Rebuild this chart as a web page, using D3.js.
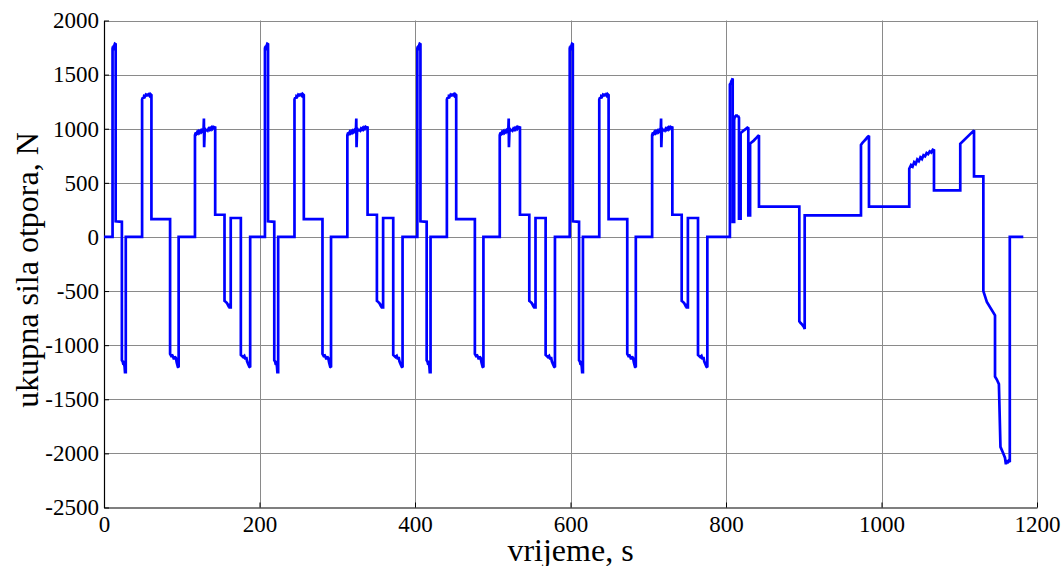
<!DOCTYPE html>
<html>
<head>
<meta charset="utf-8">
<script src="https://cdn.jsdelivr.net/npm/d3@7"></script>
<style>
  body { margin: 0; background: #fff; }
  svg { display: block; }
</style>
</head>
<body>
<svg id="chart"></svg>
<script>
// one ECE-15 urban cycle (time in s from cycle start, force in N)
const eceTime = [
  0, 11,
  11, 11.5, 12, 12.5, 13, 13.5, 14, 15,
  15, 23,
  23, 24, 24.5, 25.5, 26.5, 27, 28,
  28, 49,
  49, 50, 51, 51.5, 52.5, 53.5, 54.5, 55.5, 56.5, 57.5, 58.5, 59.5, 61,
  61, 85,
  85, 86.5, 88, 89, 90, 91, 92.5, 93.5, 95, 96,
  96, 117,
  117, 118, 119, 120, 121, 122, 123, 124, 125, 126, 127, 128, 128.5, 128.8, 129.5, 130.5, 131.5, 132.5, 133.5, 134.5, 135.5, 136.5, 137.5, 138.5, 139.5, 140.5, 141.5, 143,
  143, 155,
  155, 156.5, 158, 159.5, 160.5, 161.5, 163,
  163, 176,
  176, 177.5, 179, 180.5, 182, 183, 184, 185.5, 187, 188,
  188, 196
];
const eceForce = [
  0, 0,
  1740, 1760, 1725, 1770, 1750, 1775, 1785, 1780,
  145, 140,
  -1140, -1150, -1165, -1160, -1200, -1250, -1250,
  0, 0,
  1270, 1290, 1280, 1300, 1295, 1310, 1300, 1325, 1305, 1315, 1305, 1320, 1310,
  165, 165,
  -1080, -1100, -1095, -1110, -1130, -1105, -1120, -1160, -1200, -1205,
  0, 0,
  940, 965, 955, 970, 960, 975, 965, 980, 970, 985, 975, 985, 1095, 830, 980, 990, 978, 995, 985, 1000, 992, 1005, 995, 1010, 1000, 1015, 1008, 1020,
  205, 205,
  -590, -600, -610, -630, -620, -650, -650,
  175, 175,
  -1090, -1100, -1110, -1100, -1130, -1110, -1150, -1175, -1200, -1205,
  0, 0
];
const eceCycles = 4;
const ecePeriod = 196;

// extra-urban part (absolute time in s)
const eudcTime = [
  784, 805,
  805, 806, 807, 808, 808.6,
  808.6, 810.5,
  810.5, 811.5, 812.5, 813.5, 814.5, 815.5, 816.7,
  816.7, 818.8,
  818.8, 820.5, 822, 824, 826, 827.5, 828.7,
  828.7, 831,
  831, 833, 835, 837, 839, 841, 842.4,
  842.4, 894.3,
  894.3, 896, 898, 900, 901.2,
  901.2, 973.6,
  973.6, 975.5, 977.5, 979.5, 981.5, 983.9,
  983.9, 1035.7,
  1035.7, 1038, 1040, 1042, 1044, 1046, 1048, 1050, 1052, 1054, 1056, 1058, 1060, 1062, 1064, 1066, 1067.5,
  1067.5, 1101.3,
  1101.3, 1119,
  1119, 1131,
  1131, 1135.5, 1146,
  1146, 1148.5, 1151, 1153, 1156, 1158.8, 1160, 1161, 1162, 1163.5, 1165,
  1165, 1182.4
];
const eudcForce = [
  0, 0,
  1410, 1420, 1440, 1455, 1465,
  140, 140,
  1080, 1120, 1110, 1130, 1110, 1120, 1100,
  170, 170,
  960, 970, 980, 990, 1000, 1010, 1005,
  200, 200,
  860, 875, 885, 900, 915, 930, 940,
  280, 280,
  -780, -795, -810, -830, -850,
  200, 200,
  850, 870, 885, 900, 920, 935,
  280, 280,
  630, 665, 650, 690, 675, 715, 700, 735, 720, 755, 745, 775, 765, 790, 780, 805, 800,
  430, 430,
  860, 985,
  560, 560,
  -500, -600, -725,
  -1290, -1320, -1360, -1940, -1990, -2040, -2100, -2060, -2090, -2070, -2080,
  0, 0
];

const xTicks = [0, 200, 400, 600, 800, 1000, 1200];
const yTicks = [-2500, -2000, -1500, -1000, -500, 0, 500, 1000, 1500, 2000];

const width = 1064;
const height = 566;
const plotLeft = 104, plotRight = 1037, plotTop = 20.5, plotBottom = 507.5;
const serif = "Liberation Serif, Tinos, Times New Roman, Times, DejaVu Serif, serif";

// build the full series
const series = [];
for (let k = 0; k < eceCycles; k++) {
  eceTime.forEach((t, i) => series.push({ t: t + k * ecePeriod, f: eceForce[i] }));
}
eudcTime.forEach((t, i) => series.push({ t: t, f: eudcForce[i] }));

const svg = d3.select('#chart')
  .attr('width', width)
  .attr('height', height);

const x = d3.scaleLinear().domain([0, 1200]).range([plotLeft, plotRight]);
const y = d3.scaleLinear().domain([-2500, 2000]).range([plotBottom, plotTop]);

// grid
svg.append('g')
  .selectAll('line')
  .data(yTicks.filter(d => d > -2500))
  .join('line')
    .attr('x1', plotLeft).attr('x2', plotRight)
    .attr('y1', d => Math.round(y(d)) + 0.5).attr('y2', d => Math.round(y(d)) + 0.5)
    .attr('stroke', '#8a8a8a')
    .attr('stroke-width', 1);

svg.append('g')
  .selectAll('line')
  .data(xTicks.filter(d => d > 0))
  .join('line')
    .attr('x1', d => Math.round(x(d)) + 0.5).attr('x2', d => Math.round(x(d)) + 0.5)
    .attr('y1', plotTop).attr('y2', plotBottom)
    .attr('stroke', '#8a8a8a')
    .attr('stroke-width', 1);

// axes (ticks inside, MATLAB style)
const plain = d => String(d);
const xAxis = d3.axisBottom(x).tickValues(xTicks).tickFormat(plain).tickSize(-5).tickPadding(8).tickSizeOuter(0);
const yAxis = d3.axisLeft(y).tickValues(yTicks).tickFormat(plain).tickSize(-5).tickPadding(5).tickSizeOuter(0);

const gx = svg.append('g')
  .attr('transform', `translate(0,${plotBottom})`)
  .call(xAxis);
const gy = svg.append('g')
  .attr('transform', `translate(${plotLeft},0)`)
  .call(yAxis);

[gx, gy].forEach(g => {
  g.attr('font-family', serif).attr('font-size', 23);
  g.select('.domain').attr('stroke', '#000').attr('stroke-width', 1.2);
  g.selectAll('.tick line').attr('stroke', '#000');
  g.selectAll('.tick text')
    .attr('font-family', serif)
    .attr('font-size', 23)
    .attr('fill', '#000');
});
gx.selectAll('.tick text').attr('dy', '0.71em');

// data line
const line = d3.line()
  .x(d => x(d.t))
  .y(d => y(d.f));

svg.append('path')
  .datum(series)
  .attr('fill', 'none')
  .attr('stroke', '#0000ff')
  .attr('stroke-width', 2.7)
  .attr('stroke-linejoin', 'miter')
  .attr('stroke-miterlimit', 2)
  .attr('d', line);

// axis labels
svg.append('text')
  .attr('x', (plotLeft + plotRight) / 2)
  .attr('y', 561)
  .attr('text-anchor', 'middle')
  .attr('font-family', serif)
  .attr('font-size', 32)
  .text('vrijeme, s');

svg.append('text')
  .attr('transform', `translate(38,270) rotate(-90)`)
  .attr('text-anchor', 'middle')
  .attr('font-family', serif)
  .attr('font-size', 32)
  .text('ukupna sila otpora, N');
</script>
</body>
</html>
